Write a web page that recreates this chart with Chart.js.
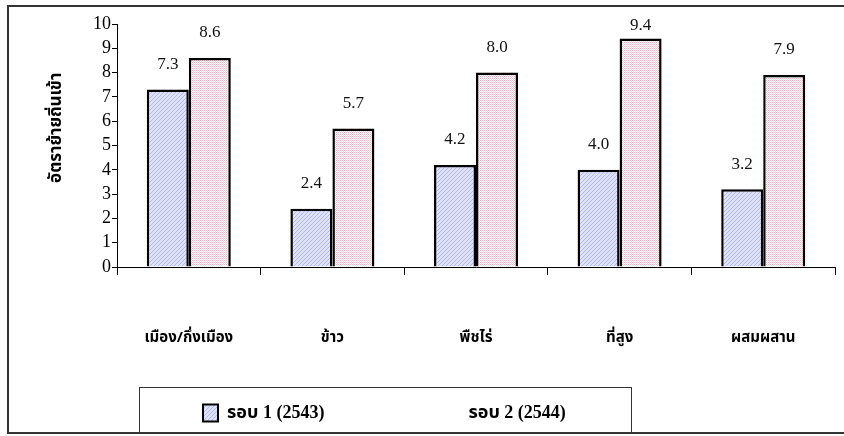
<!DOCTYPE html>
<html>
<head>
<meta charset="utf-8">
<script src="https://cdn.jsdelivr.net/npm/chart.js@4.4.1/dist/chart.umd.min.js"></script>
<style>
  html, body { margin: 0; padding: 0; background: #fff; }
  #wrap { width: 844px; height: 436px; position: relative; }
</style>
</head>
<body>
<div id="wrap"><canvas id="c" width="844" height="436"></canvas></div>
<script>
const categories = ['เมือง/กึ่งเมือง', 'ข้าว', 'พืชไร่', 'ที่สูง', 'ผสมผสาน'];
const round1Label = 'รอบ 1 (2543)';
const round2Label = 'รอบ 2 (2544)';
const round1 = [7.3, 2.4, 4.2, 4.0, 3.2];
const round2 = [8.6, 5.7, 8.0, 9.4, 7.9];
const yTickValues = [0, 1, 2, 3, 4, 5, 6, 7, 8, 9, 10];
const yTitle = 'อัตราย้ายถิ่นเข้า';

const THAI = '"Noto Sans Thai", "Noto Sans Thai UI", "Noto Sans", sans-serif';
const SERIF = '"Liberation Serif", "Times New Roman", serif';

function makePattern(w, h, bg, dots) {
  const c = document.createElement('canvas');
  c.width = w; c.height = h;
  const x = c.getContext('2d');
  x.fillStyle = bg; x.fillRect(0, 0, w, h);
  dots.forEach(d => { x.fillStyle = d[2]; x.fillRect(d[0], d[1], 1, 1); });
  return document.getElementById('c').getContext('2d').createPattern(c, 'repeat');
}
const bluePat = makePattern(4, 4, '#dfe2fb', [
  [0, 3, '#b3b8f0'], [1, 2, '#b3b8f0'], [2, 1, '#b3b8f0'], [3, 0, '#b3b8f0']
]);
const pinkPat = makePattern(2, 2, '#ffffff', [
  [0, 0, '#eab3c0'], [1, 1, '#f5d9e0']
]);

const framePlugin = {
  id: 'frame',
  afterLayout(chart) {
    const lg = chart.legend;
    const pad = chart.options.plugins.legend.labels.padding;
    lg.top = 404 - pad;
    lg.left = 203 - pad;
  },
  afterDraw(chart) {
    const ctx = chart.ctx;
    ctx.save();
    ctx.strokeStyle = '#333';
    ctx.lineWidth = 2;
    ctx.beginPath();
    ctx.moveTo(844, 6); ctx.lineTo(8, 6); ctx.lineTo(8, 433); ctx.lineTo(844, 433);
    ctx.stroke();
    ctx.lineWidth = 1;
    ctx.strokeStyle = '#333';
    ctx.strokeRect(139.5, 387.5, 492, 46);
    ctx.restore();
  }
};

const valueLabels = {
  id: 'valueLabels',
  afterDatasetsDraw(chart) {
    const ctx = chart.ctx;
    const top = chart.chartArea.top;
    ctx.save();
    ctx.font = '17px ' + SERIF;
    ctx.fillStyle = '#111';
    ctx.textAlign = 'center';
    ctx.textBaseline = 'middle';
    chart.data.datasets.forEach((ds, i) => {
      chart.getDatasetMeta(i).data.forEach((el, j) => {
        ctx.fillText(ds.data[j].toFixed(1), el.x, Math.max(el.y - 25, top + 2));
      });
    });
    ctx.restore();
  }
};

new Chart(document.getElementById('c'), {
  type: 'bar',
  data: {
    labels: categories,
    datasets: [
      { label: round1Label, data: round1, backgroundColor: bluePat, borderColor: '#000', borderWidth: 2.5,
        categoryPercentage: 0.585, barPercentage: 1.0 },
      { label: round2Label, data: round2, backgroundColor: pinkPat, borderColor: '#000', borderWidth: 2.5,
        categoryPercentage: 0.585, barPercentage: 1.0 }
    ]
  },
  options: {
    responsive: false,
    animation: false,
    devicePixelRatio: 1,
    layout: { padding: { top: 24, right: 9, bottom: 0, left: 0 } },
    plugins: {
      tooltip: { enabled: false },
      legend: {
        position: 'bottom',
        align: 'start',
        maxHeight: 60,
        labels: {
          boxWidth: 15,
          boxHeight: 17,
          padding: 120,
          color: '#000',
          font: { family: SERIF + ', ' + THAI, size: 18, weight: 'bold' },
          generateLabels(chart) {
            return chart.data.datasets.map((ds, i) => ({
              text: ds.label,
              fillStyle: i === 0 ? bluePat : 'rgba(0,0,0,0)',
              strokeStyle: i === 0 ? '#000' : 'rgba(0,0,0,0)',
              lineWidth: i === 0 ? 2 : 0,
              fontColor: '#000',
              datasetIndex: i,
              hidden: false
            }));
          }
        }
      }
    },
    scales: {
      x: {
        afterFit(scale) { scale.height = 109; scale.paddingLeft = 0; scale.paddingRight = 0; },
        grid: { display: true, drawOnChartArea: false, tickLength: 8, color: '#000' },
        border: { color: '#000', width: 1 },
        ticks: {
          padding: 55,
          color: '#000',
          maxRotation: 0,
          autoSkip: false,
          font: { family: THAI, size: 15, weight: 'bold' }
        }
      },
      y: {
        min: 0,
        max: 10,
        afterFit(scale) { scale.width = 117; },
        afterBuildTicks(scale) { scale.ticks = yTickValues.map(v => ({ value: v })); },
        grid: { display: true, drawOnChartArea: false, tickLength: 5, color: '#000' },
        border: { color: '#000', width: 1 },
        ticks: {
          padding: 1,
          color: '#000',
          autoSkip: false,
          font: { family: SERIF, size: 18 }
        },
        title: {
          display: true,
          text: '        ' + yTitle,
          color: '#000',
          padding: { top: 47, bottom: 0 },
          font: { family: THAI, size: 17, weight: 'bold' }
        }
      }
    }
  },
  plugins: [framePlugin, valueLabels]
});
</script>
</body>
</html>
